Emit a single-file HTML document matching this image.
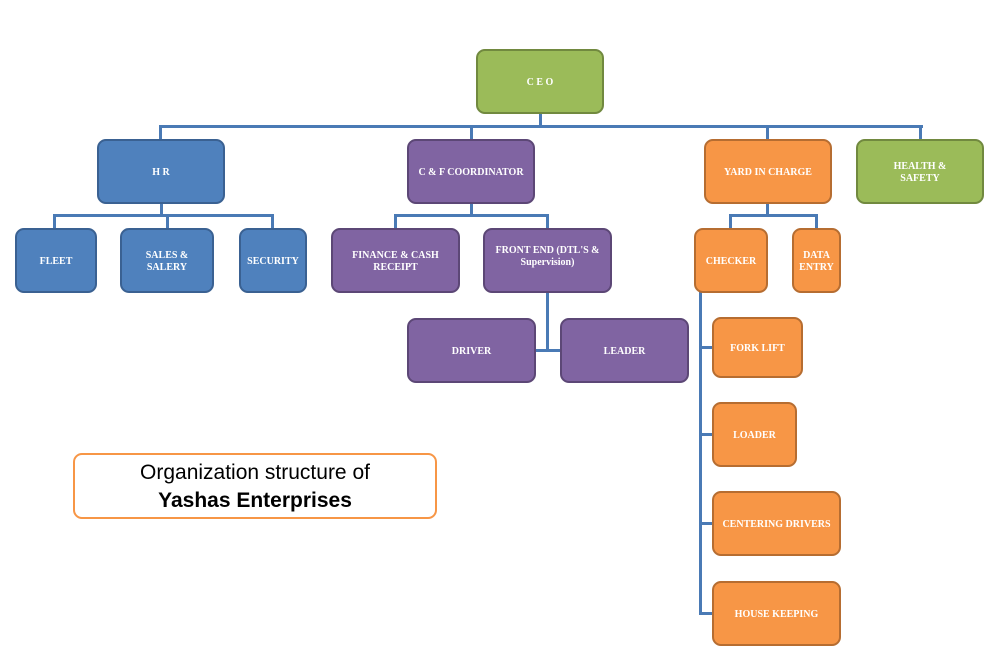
<!DOCTYPE html>
<html><head><style>
body{margin:0;width:996px;height:671px;background:#fff;position:relative;overflow:hidden;font-family:"Liberation Serif",serif}
.b{position:absolute;box-sizing:border-box;border-radius:9px;border:2.5px solid;display:flex;align-items:center;justify-content:center;text-align:center;color:#fff;font-weight:bold;font-size:10px;line-height:12px;padding-top:3px}
.bl{background:#4f81bd;border-color:#3a6192}
.pu{background:#8064a2;border-color:#5c4776}
.or{background:#f79646;border-color:#b66d31}
.gr{background:#9bbb59;border-color:#71893f}
.l{position:absolute;background:#4a7ab5}
</style></head><body>
<div class="l" style="left:539px;top:113px;width:3px;height:15px"></div>
<div class="l" style="left:159px;top:125px;width:764px;height:3px"></div>
<div class="l" style="left:159px;top:125px;width:3px;height:15px"></div>
<div class="l" style="left:470px;top:125px;width:3px;height:15px"></div>
<div class="l" style="left:766px;top:125px;width:3px;height:15px"></div>
<div class="l" style="left:919px;top:125px;width:3px;height:15px"></div>
<div class="l" style="left:160px;top:203px;width:3px;height:13px"></div>
<div class="l" style="left:53px;top:214px;width:220px;height:3px"></div>
<div class="l" style="left:53px;top:214px;width:3px;height:15px"></div>
<div class="l" style="left:166px;top:214px;width:3px;height:15px"></div>
<div class="l" style="left:271px;top:214px;width:3px;height:15px"></div>
<div class="l" style="left:470px;top:203px;width:3px;height:13px"></div>
<div class="l" style="left:394px;top:214px;width:155px;height:3px"></div>
<div class="l" style="left:394px;top:214px;width:3px;height:15px"></div>
<div class="l" style="left:546px;top:214px;width:3px;height:15px"></div>
<div class="l" style="left:546px;top:292px;width:3px;height:60px"></div>
<div class="l" style="left:534px;top:349px;width:27px;height:3px"></div>
<div class="l" style="left:766px;top:203px;width:3px;height:13px"></div>
<div class="l" style="left:729px;top:214px;width:89px;height:3px"></div>
<div class="l" style="left:729px;top:214px;width:3px;height:15px"></div>
<div class="l" style="left:815px;top:214px;width:3px;height:15px"></div>
<div class="l" style="left:699px;top:292px;width:3px;height:323px"></div>
<div class="l" style="left:699px;top:346px;width:14px;height:3px"></div>
<div class="l" style="left:699px;top:433px;width:14px;height:3px"></div>
<div class="l" style="left:699px;top:522px;width:14px;height:3px"></div>
<div class="l" style="left:699px;top:612px;width:14px;height:3px"></div>
<div class="b gr" style="left:476px;top:49px;width:128px;height:65px">C E O</div>
<div class="b bl" style="left:97px;top:139px;width:128px;height:65px">H R</div>
<div class="b pu" style="left:407px;top:139px;width:128px;height:65px">C &amp; F COORDINATOR</div>
<div class="b or" style="left:704px;top:139px;width:128px;height:65px">YARD IN CHARGE</div>
<div class="b gr" style="left:856px;top:139px;width:128px;height:65px">HEALTH &amp;<br>SAFETY</div>
<div class="b bl" style="left:15px;top:228px;width:82px;height:65px">FLEET</div>
<div class="b bl" style="left:120px;top:228px;width:94px;height:65px">SALES &amp;<br>SALERY</div>
<div class="b bl" style="left:239px;top:228px;width:68px;height:65px">SECURITY</div>
<div class="b pu" style="left:331px;top:228px;width:129px;height:65px">FINANCE &amp; CASH<br>RECEIPT</div>
<div class="b pu" style="left:483px;top:228px;width:129px;height:65px;align-items:flex-start;padding-top:15px">FRONT END (DTL'S &amp;<br>Supervision)</div>
<div class="b or" style="left:694px;top:228px;width:74px;height:65px">CHECKER</div>
<div class="b or" style="left:792px;top:228px;width:49px;height:65px">DATA<br>ENTRY</div>
<div class="b pu" style="left:407px;top:318px;width:129px;height:65px">DRIVER</div>
<div class="b pu" style="left:560px;top:318px;width:129px;height:65px">LEADER</div>
<div class="b or" style="left:712px;top:317px;width:91px;height:61px">FORK LIFT</div>
<div class="b or" style="left:712px;top:402px;width:85px;height:65px">LOADER</div>
<div class="b or" style="left:712px;top:491px;width:129px;height:65px">CENTERING DRIVERS</div>
<div class="b or" style="left:712px;top:581px;width:129px;height:65px">HOUSE KEEPING</div>
<div style="position:absolute;left:73px;top:453px;width:364px;height:66px;box-sizing:border-box;border:2px solid #f79646;border-radius:9px;text-align:center;font-family:'Liberation Sans',sans-serif;font-size:21px;line-height:28px;padding-top:4px;color:#000">Organization structure of<br><b>Yashas Enterprises</b></div>
</body></html>
